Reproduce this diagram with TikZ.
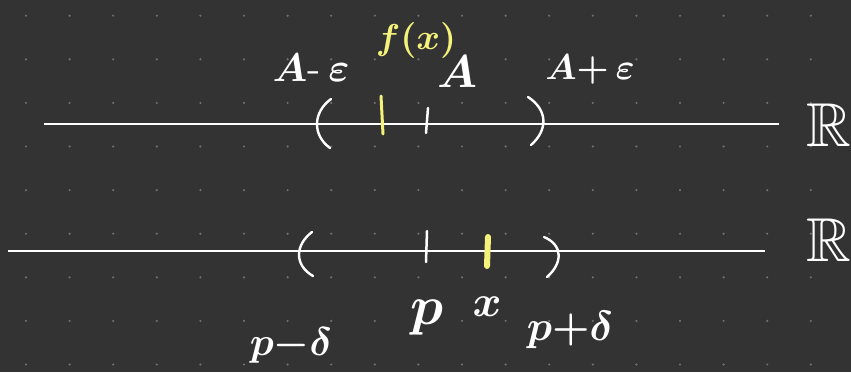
\documentclass[tikz,border=0pt]{standalone}
\usepackage{amsmath,amssymb}
\definecolor{bgc}{HTML}{333333}
\definecolor{dotc}{HTML}{707070}
\definecolor{hiy}{HTML}{F4F27A}
\tikzset{
  lbl/.style={text=white,inner sep=0pt,font=\boldmath},
  ylbl/.style={text=hiy,inner sep=0pt,font=\boldmath},
  axis/.style={white,line width=2pt},
  paren/.style={white,line width=2.4pt,line cap=round},
  tick/.style={white,line width=2.5pt,line cap=round},
  ytick/.style={hiy,line width=3pt,line cap=round},
}
\begin{document}
\begin{tikzpicture}[x=1pt,y=-1pt]
\fill[bgc] (0,0) rectangle (851,372);
\useasboundingbox (0,0) rectangle (851,372);
\foreach \i in {0,...,18}{\foreach \j in {0,...,8}{\fill[dotc] (26+43.6*\i,15.7+43.6*\j) circle (1.2);}}
% axes
\coordinate (t1) at (44,124);
\coordinate (t2) at (779,124);
\draw[axis] (t1) -- (t2);
\coordinate (bl) at (8,250.5);
\coordinate (br) at (765,250.5);
\draw[axis] (bl) -- (br);
% top parens and ticks
\draw[paren] (331,99) .. controls (313,112) and (312,135) .. (330,148);
\draw[paren] (528,97) .. controls (548,110) and (548,130) .. (531,145);
\coordinate (ya) at (381,96); \coordinate (yb) at (383,134);
\draw[ytick] (ya) -- (yb);
\coordinate (wa) at (428,108); \coordinate (wb) at (426,133);
\draw[tick] (wa) -- (wb);
% bottom parens and ticks
\draw[paren] (312,232) .. controls (295,245) and (294,265) .. (313,276);
\draw[paren] (544,237) .. controls (563,245) and (563,263) .. (547,277);
\coordinate (pa) at (427,231); \coordinate (pb) at (426,262);
\draw[tick] (pa) -- (pb);
\coordinate (xa) at (488,237); \coordinate (xb) at (487,266);
\draw[hiy,line width=6pt,line cap=round] (xa) -- (xb);
% labels
\node[lbl,scale=4] (ame) at (311,68) {$A\text{-}\,\varepsilon$};
\node[ylbl,scale=3.6] (fx) at (416,40) {$f(x)$};
\node[lbl,scale=4.6] (A) at (457,72) {$A$};
\node[lbl,scale=3.6] (ape) at (590,70) {$A{+}\,\varepsilon$};
\node[lbl,scale=6.2] (R1) at (829,125) {$\mathbb{R}$};
\node[lbl,scale=6.2] (R2) at (829,240) {$\mathbb{R}$};
\node[lbl,scale=4] (pmd) at (291,345) {$p{-}\delta$};
\node[lbl,scale=5.5] (p) at (427,318) {$p$};
\node[lbl,scale=4.4] (x) at (487,307) {$x$};
\node[lbl,scale=4.2] (ppd) at (570,330) {$p{+}\delta$};
\end{tikzpicture}
\end{document}
